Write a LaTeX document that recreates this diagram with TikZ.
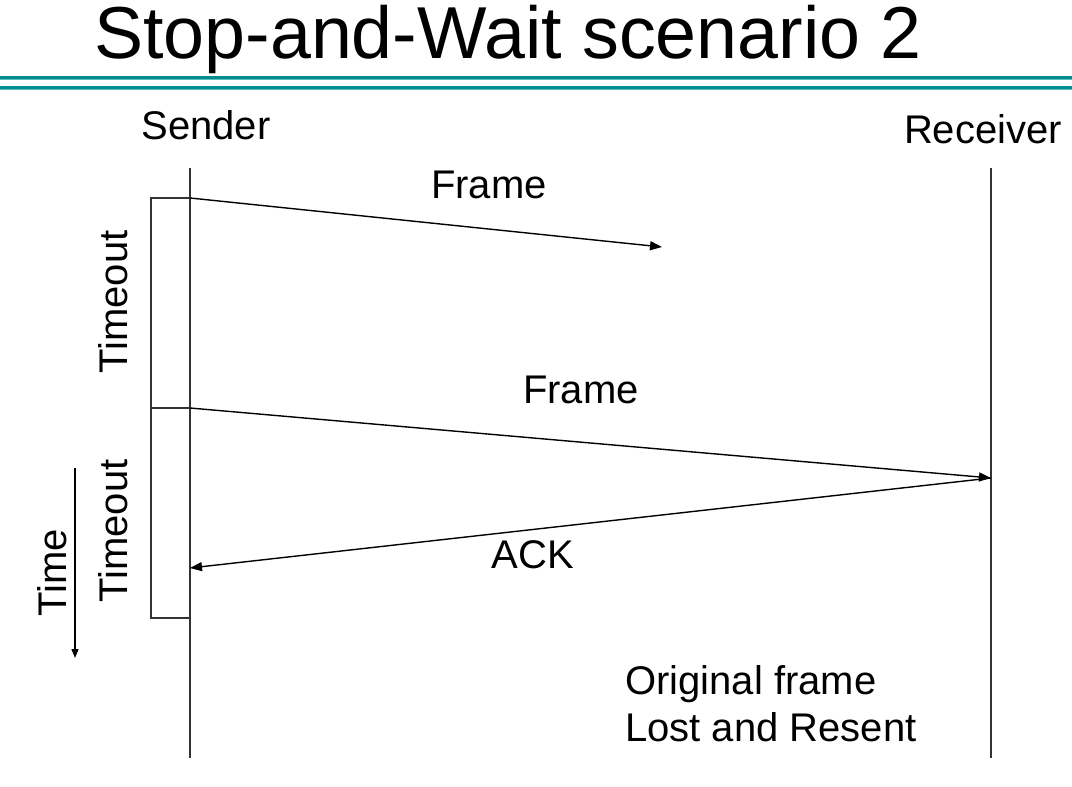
\documentclass[tikz,border=0pt]{standalone}
\usepackage{fontspec}
\setmainfont{Liberation Sans}
\usetikzlibrary{arrows.meta}
\definecolor{teal1}{RGB}{0,140,145}
\definecolor{teal2}{RGB}{90,190,190}
\begin{document}
\begin{tikzpicture}[x=1pt,y=-1pt,
  lbl/.style={font=\fontsize{40}{44}\selectfont, inner sep=0pt},
  life/.style={line width=1.3pt, draw=black!80},
  msg/.style={line width=1.4pt, -{Triangle[length=12pt,width=9pt]}},
  tbox/.style={line width=1.3pt, draw=black!80}]
\useasboundingbox (0,0) rectangle (1072,787);
% title
\node[inner sep=0pt, anchor=base west, font=\fontsize{73.6}{80}\selectfont] (title) at (94,58) {Stop-and-Wait scenario 2};
% header rules
\draw[teal1, line width=2.2pt] (0,77.5) -- (1072,77.5);
\draw[teal2, line width=1pt] (0,79.5) -- (1072,79.5);
\draw[teal1, line width=2.2pt] (0,87.5) -- (1072,87.5);
\draw[teal2, line width=1pt] (0,89.5) -- (1072,89.5);
% labels
\node[lbl, anchor=base] (sender) at (206,139) {Sender};
\node[lbl, anchor=base] (receiver) at (983,143) {Receiver};
% lifelines
\coordinate (stop) at (190,168);
\coordinate (sbot) at (190,758);
\coordinate (rtop) at (991,168);
\coordinate (rbot) at (991,758);
\draw[life] (stop) -- (sbot);
\draw[life] (rtop) -- (rbot);
% timeout boxes
\coordinate (t0) at (190,198);
\coordinate (t1) at (190,408);
\coordinate (t2) at (190,618);
\coordinate (ack) at (190,568);
\coordinate (lost) at (662,247);
\coordinate (rcv) at (991,478);
\draw[tbox] (t0) -- (151,198) -- (151,618) -- (t2);
\draw[tbox] (151,408) -- (t1);
\node[lbl, rotate=90] (to1) at (113,302) {Timeout};
\node[lbl, rotate=90] (to2) at (113,531) {Timeout};
% messages
\draw[msg] (t0) -- (lost);
\draw[msg] (t1) -- (rcv);
\draw[msg] (rcv) -- (ack);
\node[lbl, anchor=base] (f1) at (489,198) {Frame};
\node[lbl, anchor=base] (f2) at (581,403) {Frame};
\node[lbl, anchor=base] (acklbl) at (533,568) {ACK};
% time arrow
\coordinate (ta) at (75,468);
\coordinate (tb) at (75,658);
\draw[line width=1.3pt, -{Triangle[length=9pt,width=7pt]}] (ta) -- (tb);
\node[lbl, rotate=90] (time) at (52,573) {Time};
% note
\node[lbl, anchor=base west] (n1) at (625,694) {Original frame};
\node[lbl, anchor=base west] (n2) at (625,741) {Lost and Resent};
\end{tikzpicture}
\end{document}
